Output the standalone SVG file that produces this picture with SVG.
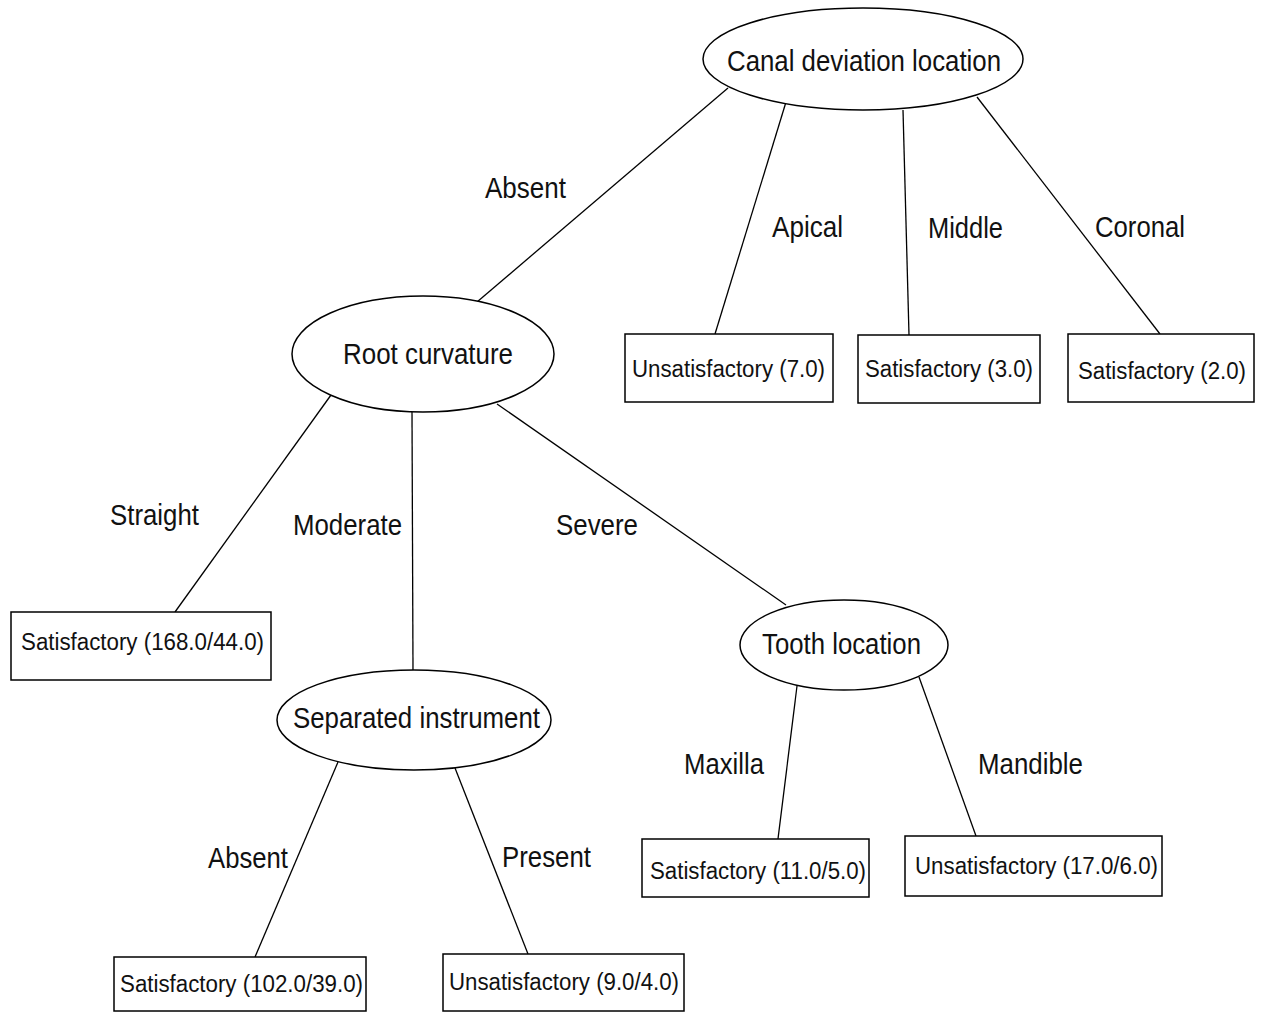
<svg xmlns="http://www.w3.org/2000/svg" width="1262" height="1012" viewBox="0 0 1262 1012">
  <style>
    .node { fill: #ffffff; stroke: #000000; stroke-width: 1.5; }
    .edge { stroke: #000000; stroke-width: 1.3; fill: none; }
    .t { font-family: "Liberation Sans", Arial, sans-serif; fill: #111111; }
    .big { font-size: 30px; }
    .small { font-size: 23px; }
  </style>
  <rect width="1262" height="1012" fill="#ffffff"/>

  <!-- connectors -->
  <g id="edges">
    <line class="edge" x1="728" y1="88" x2="477" y2="302"/>
    <line class="edge" x1="786" y1="102" x2="715" y2="334"/>
    <line class="edge" x1="903" y1="110" x2="909" y2="335"/>
    <line class="edge" x1="977" y1="97" x2="1160" y2="334"/>
    <line class="edge" x1="331" y1="395" x2="175" y2="612"/>
    <line class="edge" x1="412" y1="412" x2="413" y2="670"/>
    <line class="edge" x1="497" y1="404" x2="786" y2="605"/>
    <line class="edge" x1="338" y1="762" x2="255" y2="957"/>
    <line class="edge" x1="455" y1="768" x2="528" y2="954"/>
    <line class="edge" x1="797" y1="686" x2="778" y2="839"/>
    <line class="edge" x1="919" y1="677" x2="976" y2="836"/>
  </g>

  <!-- branch labels -->
  <g id="edge-labels">
    <text class="t big" x="485" y="198" textLength="81" lengthAdjust="spacingAndGlyphs">Absent</text>
    <text class="t big" x="772" y="237" textLength="71" lengthAdjust="spacingAndGlyphs">Apical</text>
    <text class="t big" x="928" y="238" textLength="75" lengthAdjust="spacingAndGlyphs">Middle</text>
    <text class="t big" x="1095" y="237" textLength="90" lengthAdjust="spacingAndGlyphs">Coronal</text>
    <text class="t big" x="110" y="525" textLength="89" lengthAdjust="spacingAndGlyphs">Straight</text>
    <text class="t big" x="293" y="535" textLength="109" lengthAdjust="spacingAndGlyphs">Moderate</text>
    <text class="t big" x="556" y="535" textLength="82" lengthAdjust="spacingAndGlyphs">Severe</text>
    <text class="t big" x="684" y="774" textLength="80" lengthAdjust="spacingAndGlyphs">Maxilla</text>
    <text class="t big" x="978" y="774" textLength="105" lengthAdjust="spacingAndGlyphs">Mandible</text>
    <text class="t big" x="208" y="868" textLength="80" lengthAdjust="spacingAndGlyphs">Absent</text>
    <text class="t big" x="502" y="867" textLength="89" lengthAdjust="spacingAndGlyphs">Present</text>
  </g>

  <!-- decision nodes -->
  <g id="canal-deviation-location">
    <ellipse class="node" cx="863" cy="59" rx="160" ry="51"/>
    <text class="t big" x="727" y="71" textLength="274" lengthAdjust="spacingAndGlyphs">Canal deviation location</text>
  </g>
  <g id="root-curvature">
    <ellipse class="node" cx="423" cy="354" rx="131" ry="58"/>
    <text class="t big" x="343" y="364" textLength="170" lengthAdjust="spacingAndGlyphs">Root curvature</text>
  </g>
  <g id="separated-instrument">
    <ellipse class="node" cx="414" cy="720" rx="137" ry="50"/>
    <text class="t big" x="293" y="728" textLength="247" lengthAdjust="spacingAndGlyphs">Separated instrument</text>
  </g>
  <g id="tooth-location">
    <ellipse class="node" cx="844" cy="645" rx="104" ry="45"/>
    <text class="t big" x="762" y="654" textLength="159" lengthAdjust="spacingAndGlyphs">Tooth location</text>
  </g>

  <!-- leaf nodes -->
  <g id="leaf-apical">
    <rect class="node" x="625" y="334" width="208" height="68"/>
    <text class="t small" x="632" y="377" textLength="193" lengthAdjust="spacingAndGlyphs">Unsatisfactory (7.0)</text>
  </g>
  <g id="leaf-middle">
    <rect class="node" x="858" y="335" width="182" height="68"/>
    <text class="t small" x="865" y="377" textLength="168" lengthAdjust="spacingAndGlyphs">Satisfactory (3.0)</text>
  </g>
  <g id="leaf-coronal">
    <rect class="node" x="1068" y="334" width="186" height="68"/>
    <text class="t small" x="1078" y="379" textLength="168" lengthAdjust="spacingAndGlyphs">Satisfactory (2.0)</text>
  </g>
  <g id="leaf-straight">
    <rect class="node" x="11" y="612" width="260" height="68"/>
    <text class="t small" x="21" y="650" textLength="243" lengthAdjust="spacingAndGlyphs">Satisfactory (168.0/44.0)</text>
  </g>
  <g id="leaf-maxilla">
    <rect class="node" x="642" y="839" width="227" height="58"/>
    <text class="t small" x="650" y="879" textLength="216" lengthAdjust="spacingAndGlyphs">Satisfactory (11.0/5.0)</text>
  </g>
  <g id="leaf-mandible">
    <rect class="node" x="905" y="836" width="257" height="60"/>
    <text class="t small" x="915" y="874" textLength="243" lengthAdjust="spacingAndGlyphs">Unsatisfactory (17.0/6.0)</text>
  </g>
  <g id="leaf-si-absent">
    <rect class="node" x="114" y="957" width="252" height="54"/>
    <text class="t small" x="120" y="992" textLength="243" lengthAdjust="spacingAndGlyphs">Satisfactory (102.0/39.0)</text>
  </g>
  <g id="leaf-si-present">
    <rect class="node" x="443" y="954" width="241" height="57"/>
    <text class="t small" x="449" y="990" textLength="230" lengthAdjust="spacingAndGlyphs">Unsatisfactory (9.0/4.0)</text>
  </g>
</svg>
